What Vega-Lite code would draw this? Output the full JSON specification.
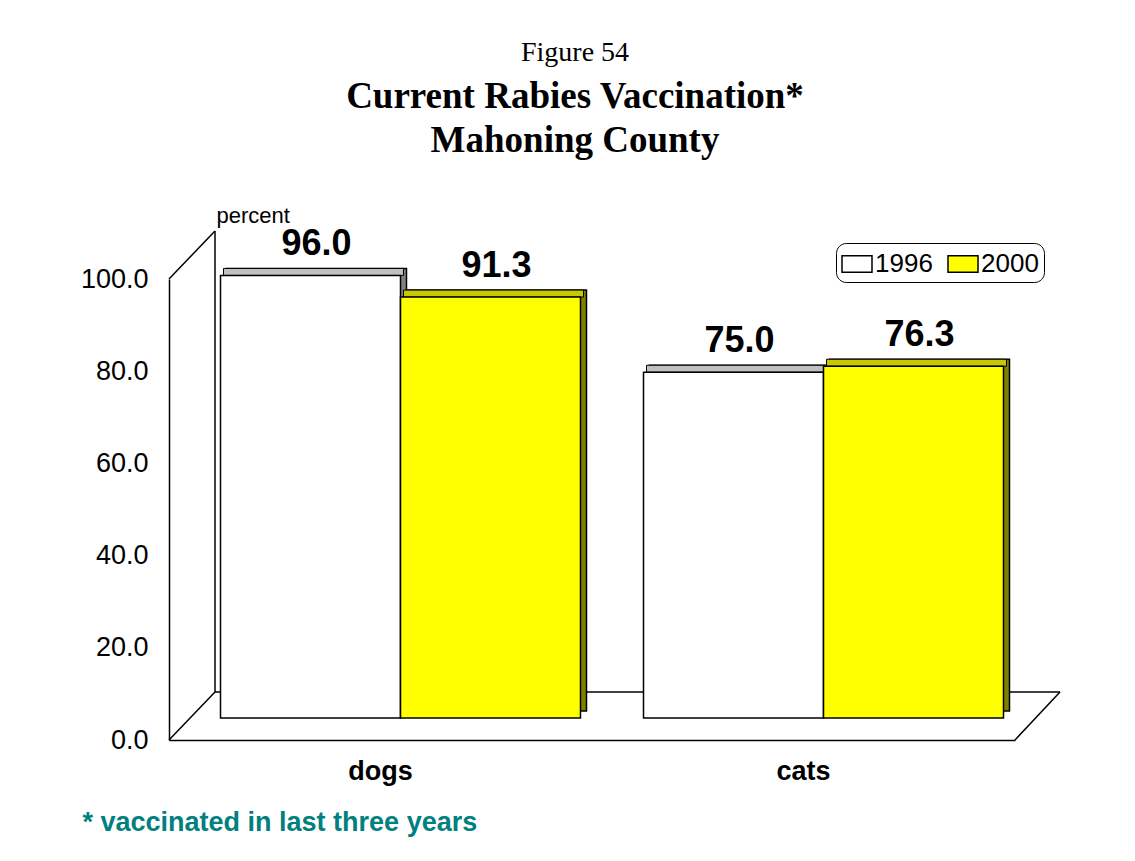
{
  "$schema": "https://vega.github.io/schema/vega-lite/v6.json",
  "autosize": {"type": "none"},
  "width": 846,
  "height": 461,
  "padding": {"left": 169, "top": 279, "right": 120, "bottom": 121},
  "background": "white",
  "config": {"view": {"stroke": null}, "font": "Liberation Sans"},
  "title": {
    "text": "Figure 54",
    "subtitle": ["Current Rabies Vaccination*", "Mahoning County"],
    "font": "Liberation Serif",
    "fontSize": 28,
    "fontWeight": "normal",
    "color": "black",
    "subtitleFont": "Liberation Serif",
    "subtitleFontSize": 37,
    "subtitleFontWeight": "bold",
    "subtitleColor": "black",
    "subtitleLineHeight": 44,
    "subtitlePadding": 12,
    "anchor": "middle",
    "dx": -17,
    "offset": 45
  },
  "data": {
    "values": [
      {"animal": "dogs", "year": "1996", "pct": 96.0},
      {"animal": "dogs", "year": "2000", "pct": 91.3},
      {"animal": "cats", "year": "1996", "pct": 75.0},
      {"animal": "cats", "year": "2000", "pct": 76.3}
    ]
  },
  "layer": [
    {
      "data": {"values": [{"wall": 1}]},
      "encoding": {
        "x": {"datum": 0, "type": "quantitative", "scale": {"domain": [0, 1], "nice": false, "zero": false}, "axis": null},
        "y": {
          "datum": 0,
          "type": "quantitative",
          "scale": {"domain": [0, 100]},
          "axis": {
            "values": [0, 20, 40, 60, 80, 100],
            "format": ".1f",
            "labelFontSize": 27,
            "labelFont": "Liberation Sans",
            "labelColor": "black",
            "labelPadding": 21,
            "ticks": false,
            "grid": false,
            "domain": true,
            "domainColor": "black",
            "domainWidth": 1.5,
            "title": "percent",
            "titleAngle": 0,
            "titleAlign": "left",
            "titleBaseline": "alphabetic",
            "titleX": 47,
            "titleY": -57,
            "titleFontSize": 22,
            "titleFontWeight": "normal",
            "titleColor": "black",
            "titleFont": "Liberation Sans"
          }
        }
      },
      "layer": [
        {
          "mark": {"type": "rule", "color": "black", "strokeWidth": 1.5, "xOffset": 46, "yOffset": -48, "y2Offset": -48},
          "encoding": {"y2": {"datum": 100}}
        },
        {
          "mark": {"type": "rule", "color": "black", "strokeWidth": 1.5, "x2Offset": 46, "y2Offset": -48},
          "encoding": {"y": {"datum": 100, "type": "quantitative"}, "x2": {"datum": 0}, "y2": {"datum": 100}}
        },
        {
          "mark": {"type": "rule", "color": "black", "strokeWidth": 1.5, "x2Offset": 46, "y2Offset": -48},
          "encoding": {"x2": {"datum": 0}, "y2": {"datum": 0}}
        },
        {
          "mark": {"type": "rule", "color": "black", "strokeWidth": 1.5, "x2Offset": 45, "y2Offset": -48},
          "encoding": {"x": {"datum": 1, "type": "quantitative"}, "x2": {"datum": 1}, "y2": {"datum": 0}}
        },
        {
          "mark": {"type": "rule", "color": "black", "strokeWidth": 1.5, "xOffset": 46, "x2Offset": 45, "yOffset": -48, "y2Offset": -48},
          "encoding": {"x2": {"datum": 1}, "y2": {"datum": 0}}
        }
      ]
    },
    {
      "encoding": {
        "x": {
          "field": "animal",
          "type": "nominal",
          "sort": ["dogs", "cats"],
          "scale": {"paddingInner": 0, "paddingOuter": 0},
          "axis": {
            "labelFontSize": 27,
            "labelFontWeight": "bold",
            "labelFont": "Liberation Sans",
            "labelColor": "black",
            "labelPadding": 18,
            "labelAngle": 0,
            "ticks": false,
            "domain": true,
            "domainColor": "black",
            "domainWidth": 1.5,
            "title": "* vaccinated in last three years",
            "titleX": -87,
            "titleY": 90,
            "titleAlign": "left",
            "titleBaseline": "alphabetic",
            "titleFontSize": 27,
            "titleFontWeight": "bold",
            "titleColor": "#008080",
            "titleFont": "Liberation Sans"
          }
        },
        "y": {
          "field": "pct",
          "type": "quantitative",
          "scale": {"domain": [0, 100]},
          "axis": {
            "values": [0, 20, 40, 60, 80, 100],
            "format": ".1f",
            "labelFontSize": 27,
            "labelFont": "Liberation Sans",
            "labelColor": "black",
            "labelPadding": 21,
            "ticks": false,
            "grid": false,
            "domain": true,
            "domainColor": "black",
            "domainWidth": 1.5,
            "title": "percent",
            "titleAngle": 0,
            "titleAlign": "left",
            "titleBaseline": "alphabetic",
            "titleX": 47,
            "titleY": -57,
            "titleFontSize": 22,
            "titleFontWeight": "normal",
            "titleColor": "black",
            "titleFont": "Liberation Sans"
          }
        }
      },
      "layer": [
        {
          "transform": [{"filter": "datum.year === '1996'"}],
          "mark": {"type": "bar", "fill": "#808080", "stroke": "black", "strokeWidth": 1.5, "width": {"band": 0.4255}, "xOffset": -64, "yOffset": -29, "y2Offset": -29}
        },
        {
          "transform": [{"filter": "datum.year === '2000'"}],
          "mark": {"type": "bar", "fill": "#808000", "stroke": "black", "strokeWidth": 1.5, "width": {"band": 0.4255}, "xOffset": 116, "yOffset": -29, "y2Offset": -29}
        },
        {
          "transform": [{"filter": "datum.year === '1996'"}],
          "mark": {"type": "bar", "fill": "#c0c0c0", "stroke": "black", "strokeWidth": 1, "width": {"band": 0.4255}, "xOffset": -67, "yOffset": -29, "y2Offset": -22},
          "encoding": {"y2": {"field": "pct"}}
        },
        {
          "transform": [{"filter": "datum.year === '2000'"}],
          "mark": {"type": "bar", "fill": "#c8c800", "stroke": "black", "strokeWidth": 1, "width": {"band": 0.4255}, "xOffset": 113, "yOffset": -29, "y2Offset": -22},
          "encoding": {"y2": {"field": "pct"}}
        },
        {
          "transform": [{"filter": "datum.year === '1996'"}],
          "mark": {"type": "bar", "stroke": "black", "strokeWidth": 1.5, "width": {"band": 0.4255}, "xOffset": -70, "yOffset": -22, "y2Offset": -22},
          "encoding": {
            "color": {
              "field": "year",
              "type": "nominal",
              "scale": {"domain": ["1996", "2000"], "range": ["#ffffff", "#ffff00"]},
              "legend": {
                "orient": "none",
                "legendX": 667,
                "legendY": -36,
                "direction": "horizontal",
                "title": null,
                "labelFontSize": 26,
                "labelFont": "Liberation Sans",
                "labelColor": "black",
                "symbolType": "M-1,-0.55H1V0.55H-1Z",
                "symbolSize": 900,
                "symbolStrokeColor": "black",
                "symbolStrokeWidth": 1.5,
                "symbolOpacity": 1,
                "strokeColor": "black",
                "fillColor": "white",
                "cornerRadius": 10,
                "padding": 5,
                "columnPadding": 12,
                "labelOffset": 2
              }
            }
          }
        },
        {
          "transform": [{"filter": "datum.year === '2000'"}],
          "mark": {"type": "bar", "stroke": "black", "strokeWidth": 1.5, "width": {"band": 0.4255}, "xOffset": 110, "yOffset": -22, "y2Offset": -22},
          "encoding": {
            "color": {"field": "year", "type": "nominal", "scale": {"domain": ["1996", "2000"], "range": ["#ffffff", "#ffff00"]}}
          }
        },
        {
          "transform": [{"filter": "datum.year === '1996'"}],
          "mark": {"type": "text", "font": "Liberation Sans", "fontWeight": "bold", "fontSize": 36, "baseline": "alphabetic", "align": "center", "xOffset": -64, "dy": -42, "color": "black"},
          "encoding": {"text": {"field": "pct", "type": "quantitative", "format": ".1f"}}
        },
        {
          "transform": [{"filter": "datum.year === '2000'"}],
          "mark": {"type": "text", "font": "Liberation Sans", "fontWeight": "bold", "fontSize": 36, "baseline": "alphabetic", "align": "center", "xOffset": 116, "dy": -42, "color": "black"},
          "encoding": {"text": {"field": "pct", "type": "quantitative", "format": ".1f"}}
        }
      ]
    }
  ],
  "resolve": {"scale": {"x": "independent"}, "axis": {"x": "independent"}}
}
